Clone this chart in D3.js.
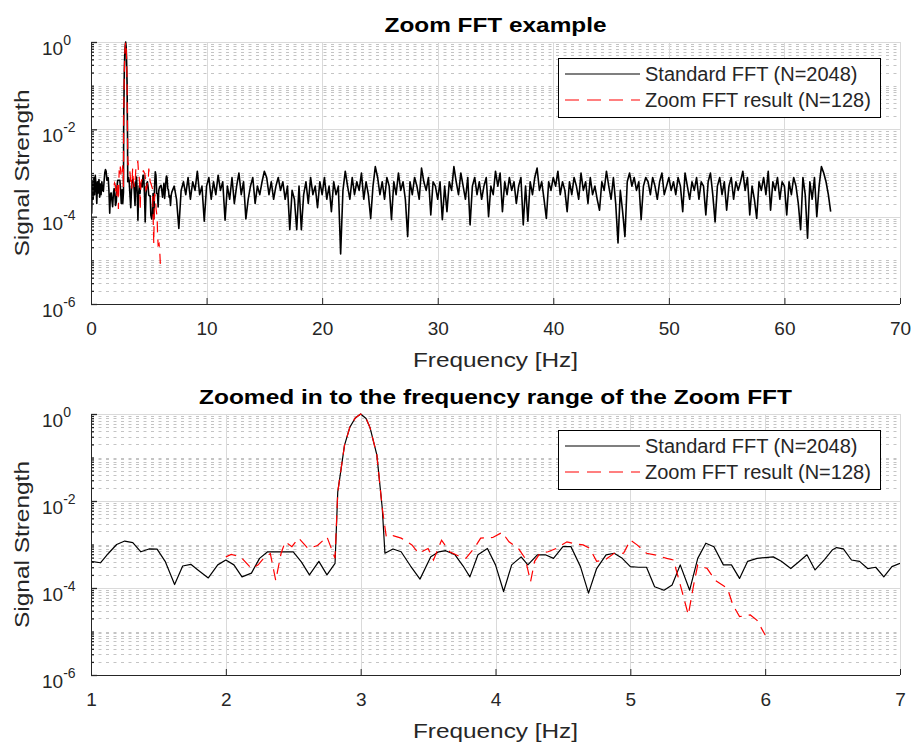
<!DOCTYPE html>
<html>
<head>
<meta charset="utf-8">
<script src="https://cdn.jsdelivr.net/npm/d3@7"></script>
<style>
  body { margin: 0; background: #fff; }
  svg { font-family: "Liberation Sans", Arial, sans-serif; }
</style>
</head>
<body>
<svg id="fig" width="914" height="747"></svg>
<script>
// ---- data ----
var titles = ["Zoom FFT example", "Zoomed in to the frequency range of the Zoom FFT"];
var xLabel = "Frequency [Hz]";
var yLabel = "Signal Strength";
var legendLabels = ["Standard FFT (N=2048)", "Zoom FFT result (N=128)"];
var xTicksTop = [0, 10, 20, 30, 40, 50, 60, 70];
var xTicksBottom = [1, 2, 3, 4, 5, 6, 7];
var yTickExps = [0, -2, -4, -6];

// standard FFT, 0..7 Hz (detailed, [Hz, magnitude])
var stdLow = [
  [0.00, 4.0e-4], [0.06, 1.2e-4], [0.12, 6.3e-4], [0.19, 2.5e-4], [0.25, 7.9e-4], [0.31, 3.2e-4],
  [0.37, 8.9e-4], [0.44, 5.0e-4], [0.50, 2.0e-4], [0.56, 6.3e-4], [0.62, 3.5e-4], [0.69, 7.1e-4],
  [0.75, 2.8e-4], [0.81, 5.6e-4], [0.87, 3.2e-4], [0.94, 6.3e-4],
  [1.00, 4.1e-4], [1.07, 3.8e-4], [1.13, 6.3e-4], [1.19, 1.0e-3], [1.25, 1.2e-3], [1.31, 1.1e-3],
  [1.37, 6.8e-4], [1.43, 7.9e-4], [1.49, 7.8e-4], [1.55, 4.1e-4], [1.62, 1.2e-4], [1.68, 3.2e-4],
  [1.74, 3.5e-4], [1.80, 2.5e-4], [1.87, 1.7e-4], [1.94, 3.4e-4], [2.00, 4.4e-4], [2.06, 3.4e-4],
  [2.12, 1.8e-4], [2.19, 2.2e-4], [2.25, 4.8e-4], [2.31, 6.8e-4], [2.37, 6.8e-4], [2.44, 6.8e-4],
  [2.50, 6.8e-4], [2.56, 4.0e-4], [2.62, 2.0e-4], [2.69, 4.1e-4], [2.75, 2.0e-4], [2.81, 3.7e-4],
  [2.83, 1.6e-2], [2.88, 0.19], [2.92, 0.5], [2.96, 0.81], [3.00, 1.0], [3.04, 0.79], [3.07, 0.48],
  [3.12, 0.115], [3.16, 6.9e-3], [3.18, 6.3e-4], [3.24, 7.9e-4], [3.30, 6.8e-4], [3.37, 3.2e-4],
  [3.44, 1.6e-4], [3.52, 5.2e-4], [3.58, 6.8e-4], [3.63, 7.2e-4], [3.70, 5.8e-4], [3.76, 3.2e-4],
  [3.81, 1.8e-4], [3.87, 5.8e-4], [3.94, 8.1e-4], [4.00, 3.4e-4], [4.06, 8.3e-5], [4.12, 3.4e-4],
  [4.19, 5.2e-4], [4.24, 3.4e-4], [4.31, 5.8e-4], [4.37, 5.8e-4], [4.43, 4.8e-4], [4.50, 8.9e-4],
  [4.56, 8.9e-4], [4.63, 3.1e-4], [4.69, 7.6e-5], [4.75, 2.8e-4], [4.82, 5.8e-4], [4.88, 6.3e-4],
  [4.94, 4.8e-4], [5.00, 3.1e-4], [5.06, 3.0e-4], [5.12, 3.0e-4], [5.18, 1.07e-4], [5.25, 8.9e-5],
  [5.31, 1.17e-4], [5.37, 3.4e-4], [5.44, 8.9e-5], [5.50, 4.8e-4], [5.56, 1.07e-3], [5.62, 8.9e-4],
  [5.69, 3.4e-4], [5.75, 3.4e-4], [5.81, 1.66e-4], [5.87, 4.1e-4], [5.94, 4.8e-4], [6.00, 5.0e-4],
  [6.06, 5.2e-4], [6.12, 4.1e-4], [6.19, 2.8e-4], [6.25, 4.0e-4], [6.31, 5.8e-4], [6.37, 2.6e-4],
  [6.44, 4.5e-4], [6.50, 7.6e-4], [6.53, 8.5e-4], [6.58, 7.9e-4], [6.64, 4.4e-4], [6.70, 4.1e-4],
  [6.76, 2.8e-4], [6.82, 3.0e-4], [6.88, 1.8e-4], [6.94, 3.1e-4], [7.00, 3.7e-4]
];

// standard FFT, 7.2..64 Hz, one value every 0.2 Hz
var tailStart = 7.2, tailStep = 0.2;
var stdTail = [
  5.0e-4, 2.5e-4, 5.4e-5, 4.0e-4, 6.3e-4,   3.2e-4, 7.9e-4, 2.5e-4, 6.3e-4, 4.0e-4,
  1.1e-3, 3.2e-4, 5.0e-4, 7.9e-5, 5.0e-4,   7.9e-4, 2.5e-4, 6.3e-4, 3.2e-4, 8.9e-4,
  4.0e-4, 6.3e-4, 8.3e-5, 5.0e-4, 2.5e-4,   7.9e-4, 2.0e-4, 5.0e-4, 1.0e-3, 3.2e-4,
  6.3e-4, 8.9e-5, 2.5e-4, 5.0e-4, 7.9e-4,   2.0e-4, 5.0e-4, 3.2e-4, 6.3e-4, 1.1e-3,
  7.9e-4, 3.2e-4, 6.3e-4, 2.5e-4, 5.0e-4,   7.9e-4, 4.0e-4, 6.3e-4, 2.5e-4, 5.0e-4,
  5.0e-5, 4.0e-4, 2.5e-4, 5.0e-5, 5.0e-4,   5.0e-5, 3.2e-4, 6.3e-4, 2.0e-4, 7.9e-4,
  3.2e-4, 5.0e-4, 1.6e-4, 6.3e-4, 3.2e-4,   7.9e-4, 2.5e-4, 5.0e-4, 1.3e-4, 6.3e-4,
  3.2e-4, 5.0e-4, 1.4e-5, 4.0e-4, 1.1e-3,   5.0e-4, 2.5e-4, 7.9e-4, 3.2e-4, 6.3e-4,
  4.0e-4, 1.0e-3, 2.5e-4, 6.3e-4, 3.2e-4,   9.1e-5, 5.0e-4, 1.4e-3, 7.9e-4, 3.2e-4,
  6.3e-4, 2.5e-4, 7.9e-4, 5.0e-4, 8.5e-5,   6.3e-4, 3.2e-4, 1.0e-3, 4.0e-4, 6.3e-4,
  2.5e-4, 3.5e-5, 6.3e-4, 3.2e-4, 7.9e-4,   5.0e-4, 2.5e-4, 1.3e-3, 6.3e-4, 4.0e-4,
  7.9e-4, 1.1e-4, 6.3e-4, 5.0e-4, 2.5e-4,   6.3e-4, 8.5e-5, 5.0e-4, 1.3e-4, 6.3e-4,
  4.0e-4, 1.4e-3, 6.3e-4, 3.2e-4, 1.0e-3,   5.0e-4, 2.5e-4, 7.9e-4, 6.5e-5, 5.0e-4,
  7.9e-4, 3.2e-4, 6.3e-4, 2.5e-4, 5.0e-4,   7.9e-4, 1.0e-4, 5.0e-4, 3.2e-4, 1.1e-3,
  5.0e-4, 1.0e-3, 1.3e-4, 6.3e-4, 3.2e-4,   7.9e-4, 4.0e-4, 6.3e-4, 2.0e-4, 5.0e-4,
  7.9e-4, 6.5e-5, 5.0e-4, 7.9e-5, 6.3e-4,   3.2e-4, 7.9e-4, 1.3e-3, 4.0e-4, 6.3e-4,
  2.5e-4, 9.1e-5, 6.3e-4, 4.0e-4, 7.9e-4,   5.0e-4, 1.1e-3, 3.2e-4, 6.3e-4, 4.0e-4,
  1.3e-4, 6.3e-4, 3.2e-4, 7.9e-4, 5.0e-4,   2.5e-4, 1.0e-3, 4.0e-4, 6.3e-4, 2.0e-4,
  7.9e-4, 3.2e-4, 5.0e-4, 2.5e-4, 1.4e-4,   6.3e-4, 4.0e-4, 1.1e-3, 5.0e-4, 2.5e-4,
  7.9e-4, 2.0e-4, 2.5e-5, 4.0e-4, 1.3e-4,   3.5e-5, 6.3e-4, 1.0e-3, 5.0e-4, 7.9e-4,
  4.0e-4, 6.3e-4, 8.5e-5, 5.0e-4, 7.9e-4,   6.3e-4, 3.2e-4, 7.9e-4, 5.0e-4, 2.5e-4,
  6.3e-4, 1.0e-3, 3.2e-4, 5.0e-4, 7.9e-4,   4.0e-4, 6.3e-4, 3.2e-4, 7.9e-4, 5.0e-4,
  1.3e-4, 1.0e-3, 5.0e-4, 2.5e-4, 6.3e-4,   4.0e-4, 7.9e-4, 2.5e-4, 6.3e-4, 5.0e-4,
  1.1e-4, 6.3e-4, 1.0e-3, 3.2e-4, 7.6e-5,   5.0e-4, 7.9e-4, 3.2e-4, 6.3e-4, 1.4e-4,
  5.0e-4, 7.9e-4, 2.5e-4, 6.3e-4, 4.0e-4,   6.3e-4, 1.1e-3, 4.0e-4, 7.9e-4, 1.1e-4,
  5.0e-4, 2.5e-4, 9.1e-5, 6.3e-4, 4.0e-4,   7.9e-4, 3.2e-4, 1.1e-3, 1.4e-4, 6.3e-4,
  4.0e-4, 7.9e-4, 2.5e-4, 6.3e-4, 5.0e-4,   1.1e-4, 6.3e-4, 3.2e-4, 7.9e-4, 5.0e-4,
  2.0e-4, 5.0e-5, 7.9e-4, 3.2e-4, 3.2e-5,   6.3e-4, 2.5e-4, 7.9e-4, 1.0e-4, 5.0e-4,
  1.4e-3, 1.0e-3, 6.3e-4, 3.2e-4, 1.3e-4
];

// zoom FFT result, 2..6 Hz ([Hz, magnitude])
var zoomFFT = [
  [2.00, 5.2e-4], [2.04, 5.9e-4], [2.11, 5.2e-4], [2.19, 2.8e-4], [2.24, 3.4e-4], [2.28, 4.8e-4],
  [2.33, 6.2e-4], [2.37, 1.5e-4], [2.41, 6.3e-4], [2.44, 1.15e-3], [2.49, 8.9e-4], [2.54, 1.4e-3],
  [2.61, 8.1e-4], [2.68, 9.5e-4], [2.75, 1.5e-3], [2.81, 4.8e-4], [2.83, 1.6e-2], [2.88, 0.19],
  [2.92, 0.5], [2.96, 0.81], [3.00, 1.0], [3.04, 0.79], [3.07, 0.48], [3.12, 0.115], [3.16, 6.9e-3],
  [3.19, 1.5e-3], [3.24, 1.6e-3], [3.30, 1.4e-3], [3.38, 9.8e-4], [3.43, 6.3e-4], [3.50, 8.1e-4],
  [3.54, 4.4e-4], [3.60, 1.26e-3], [3.66, 6.8e-4], [3.74, 5.2e-4], [3.78, 4.8e-4], [3.85, 8.9e-4],
  [3.89, 1.4e-3], [3.98, 1.45e-3], [4.05, 1.9e-3], [4.10, 1.15e-3], [4.17, 8.1e-4], [4.22, 4.8e-4],
  [4.26, 1.4e-4], [4.29, 4.1e-4], [4.33, 6.3e-4], [4.39, 6.8e-4], [4.45, 8.1e-4], [4.53, 1.15e-3],
  [4.58, 1.05e-3], [4.65, 9.8e-4], [4.70, 8.1e-4], [4.75, 4.1e-4], [4.81, 4.4e-4], [4.88, 6.3e-4],
  [4.95, 6.3e-4], [5.00, 1.26e-3], [5.05, 9.8e-4], [5.12, 6.3e-4], [5.18, 5.8e-4], [5.27, 4.8e-4],
  [5.32, 4.4e-4], [5.37, 1.2e-4], [5.43, 2.4e-5], [5.47, 1.2e-4], [5.50, 3.4e-4], [5.57, 2.8e-4],
  [5.63, 1.5e-4], [5.72, 9.8e-5], [5.76, 4.1e-5], [5.81, 2.2e-5], [5.89, 2.4e-5], [5.94, 1.8e-5],
  [6.00, 8.3e-6]
];

var stdFFT = stdLow.concat(stdTail.map(function (v, i) {
  return [+(tailStart + i * tailStep).toFixed(2), v];
}));

// ---- layout ----
var left = 91, right = 900;
var panels = [
  { top: 42, bottom: 304, xDomain: [0, 70], xTicks: xTicksTop, title: titles[0], titleLen: 222, legendTop: 58, lw: 1.6 },
  { top: 414, bottom: 675, xDomain: [1, 7], xTicks: xTicksBottom, title: titles[1], titleLen: 593, legendTop: 430, lw: 1.2 }
];
var axisCol = "#262626";
var svg = d3.select("#fig");

panels.forEach(function (p, pi) {
  var x = d3.scaleLinear().domain(p.xDomain).range([left, right]);
  var y = d3.scaleLog().domain([1e-6, 1]).range([p.bottom, p.top]);
  var g = svg.append("g");

  // minor horizontal grid (dotted)
  var minorVals = [];
  for (var e = -6; e < 0; e++) {
    for (var k = 1; k <= 9; k++) {
      var v = k * Math.pow(10, e);
      if (k == 1 && e % 2 == 0) continue;
      minorVals.push(v);
    }
  }
  g.selectAll(".mgrid").data(minorVals).enter().append("line")
    .attr("x1", left).attr("x2", right)
    .attr("y1", function (d) { return Math.round(y(d)) + 0.5; })
    .attr("y2", function (d) { return Math.round(y(d)) + 0.5; })
    .attr("stroke", "#c4c4c4").attr("stroke-dasharray", "3,4.5");

  // major grid
  g.selectAll(".hgrid").data(yTickExps.slice(0, 3)).enter().append("line")
    .attr("x1", left).attr("x2", right)
    .attr("y1", function (d) { return Math.round(y(Math.pow(10, d))) + 0.5; })
    .attr("y2", function (d) { return Math.round(y(Math.pow(10, d))) + 0.5; })
    .attr("stroke", "#dadada");
  g.selectAll(".vgrid").data(p.xTicks.slice(1)).enter().append("line")
    .attr("y1", p.top).attr("y2", p.bottom)
    .attr("x1", function (d) { return Math.round(x(d)) + 0.5; })
    .attr("x2", function (d) { return Math.round(x(d)) + 0.5; })
    .attr("stroke", "#dadada");

  // data lines
  var clipId = "clip" + pi;
  svg.append("clipPath").attr("id", clipId).append("rect")
    .attr("x", left).attr("y", p.top - 1).attr("width", right - left).attr("height", p.bottom - p.top + 1);
  var line = d3.line().x(function (d) { return x(d[0]); }).y(function (d) { return y(d[1]); });
  var inRange = function (d) { return d[0] >= p.xDomain[0] && d[0] <= p.xDomain[1]; };
  var plot = g.append("g").attr("clip-path", "url(#" + clipId + ")");
  plot.append("path").datum(stdFFT.filter(inRange)).attr("d", line)
    .attr("fill", "none").attr("stroke", "#000").attr("stroke-width", p.lw).attr("stroke-linejoin", "round");
  plot.append("path").datum(zoomFFT.filter(inRange)).attr("d", line)
    .attr("fill", "none").attr("stroke", "#ff0000").attr("stroke-width", 1.2)
    .attr("stroke-dasharray", "11,7");

  // x axis (ticks inward)
  var xAxis = d3.axisBottom(x).tickValues(p.xTicks).tickSize(-6).tickPadding(18).tickFormat(d3.format("d"));
  var xg = g.append("g").attr("transform", "translate(0," + p.bottom + ")").call(xAxis);
  xg.select(".domain").attr("stroke", axisCol).attr("d", "M" + left + ",0.5H" + right);
  xg.selectAll(".tick line").attr("stroke", axisCol);
  xg.selectAll("text").attr("fill", axisCol).attr("font-size", 19).attr("font-family", "Liberation Sans, Arial, sans-serif");

  // y axis: minor and major ticks inward
  var yMinor = d3.axisLeft(y).tickValues(minorVals).tickSize(-3).tickFormat("");
  var ym = g.append("g").attr("transform", "translate(" + left + ",0)").call(yMinor);
  ym.select(".domain").remove();
  ym.selectAll(".tick line").attr("stroke", axisCol).attr("stroke-width", 1.3);
  var yMajor = d3.axisLeft(y).tickValues(yTickExps.map(function (e) { return Math.pow(10, e); }))
    .tickSize(-6).tickFormat("");
  var yg = g.append("g").attr("transform", "translate(" + left + ",0)").call(yMajor);
  yg.select(".domain").attr("stroke", axisCol).attr("d", "M0.5," + p.top + "V" + p.bottom);
  yg.selectAll(".tick line").attr("stroke", axisCol).attr("stroke-width", 1.3);

  // y tick labels 10^e
  var lab = g.selectAll(".ylab").data(yTickExps).enter().append("text")
    .attr("x", 42).attr("y", function (d) { return y(Math.pow(10, d)) + 13; })
    .attr("fill", axisCol).attr("font-size", 19);
  lab.append("tspan").text("10");
  lab.append("tspan").attr("dy", -10).attr("font-size", 14).text(function (d) { return d; });

  // title and axis labels
  var cx = (left + right) / 2;
  g.append("text").attr("x", cx).attr("y", p.top - 10).attr("text-anchor", "middle")
    .attr("font-weight", "bold").attr("font-size", 20).attr("fill", "#000")
    .attr("textLength", p.titleLen).attr("lengthAdjust", "spacingAndGlyphs")
    .text(p.title);
  g.append("text").attr("x", cx).attr("y", p.bottom + 63).attr("text-anchor", "middle")
    .attr("font-size", 21).attr("fill", axisCol)
    .attr("textLength", 165).attr("lengthAdjust", "spacingAndGlyphs")
    .text(xLabel);
  g.append("text").attr("transform", "translate(29," + ((p.top + p.bottom) / 2) + ") rotate(-90)")
    .attr("text-anchor", "middle").attr("font-size", 21).attr("fill", axisCol)
    .attr("textLength", 167).attr("lengthAdjust", "spacingAndGlyphs")
    .text(yLabel);

  // legend
  var lg = g.append("g").attr("transform", "translate(558," + p.legendTop + ")");
  lg.append("rect").attr("x", 0.5).attr("y", 0.5).attr("width", 322).attr("height", 59)
    .attr("fill", "#fff").attr("stroke", "#000");
  var styles = [{ c: "#000", dash: null }, { c: "#ff0000", dash: "14,8" }];
  legendLabels.forEach(function (t, i) {
    var ly = 16 + i * 26;
    lg.append("line").attr("x1", 7).attr("x2", 82).attr("y1", ly).attr("y2", ly)
      .attr("stroke", styles[i].c).attr("stroke-width", 1.2)
      .attr("stroke-dasharray", styles[i].dash);
    lg.append("text").attr("x", 87).attr("y", ly + 7).attr("font-size", 20).attr("fill", axisCol).text(t);
  });
});
</script>
</body>
</html>
